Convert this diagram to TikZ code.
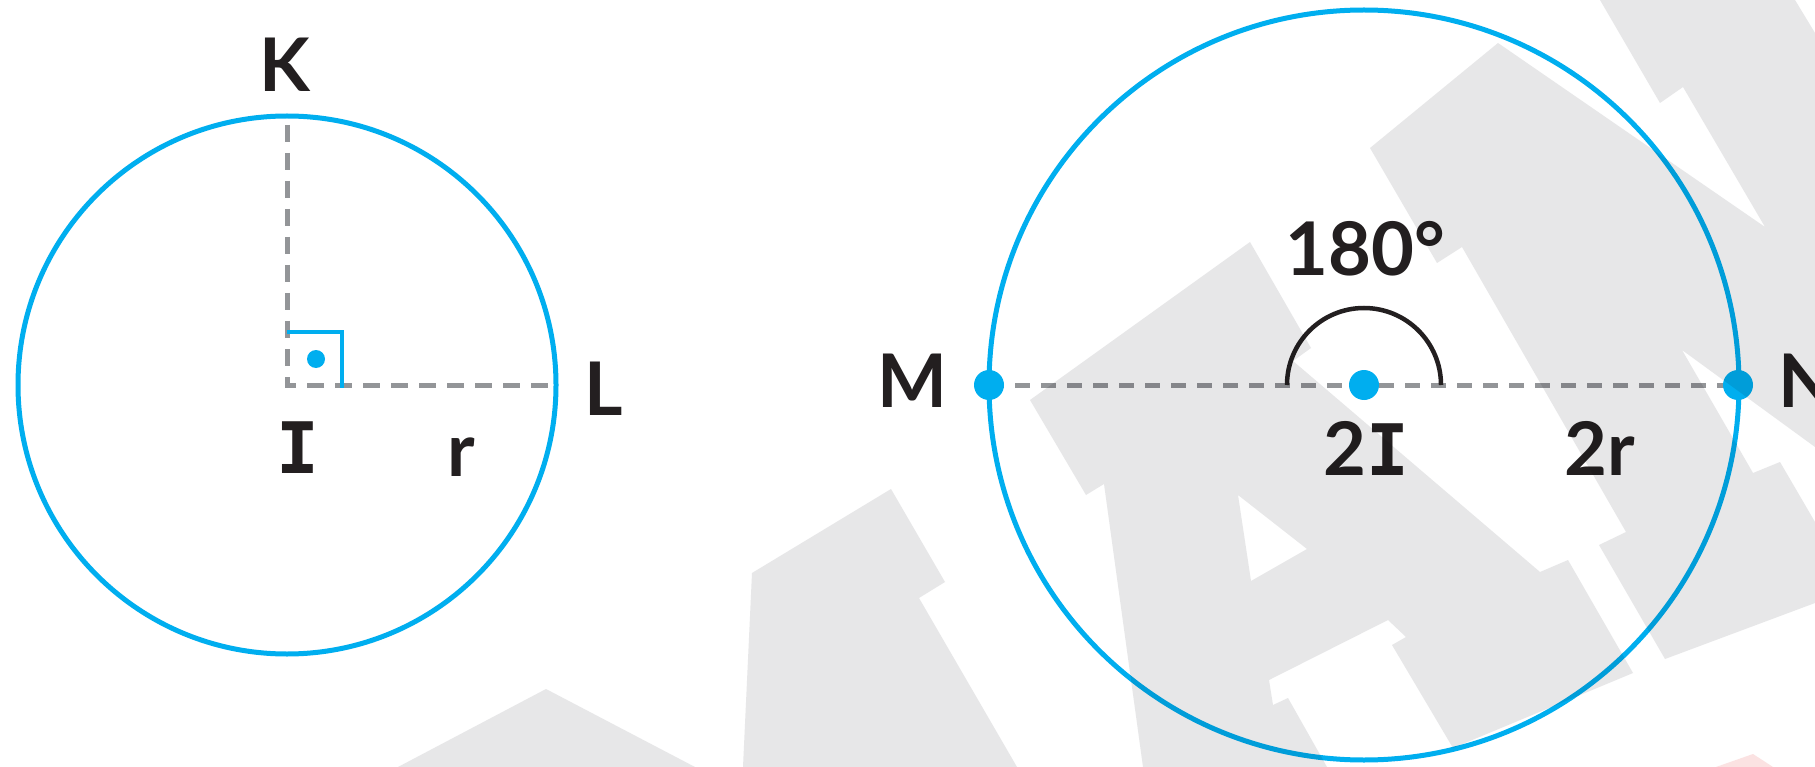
\documentclass[tikz,border=0pt]{standalone}
\usepackage{fontspec}
\setmainfont{DejaVu Sans}
\newfontfamily\labfont{Lato}
\newfontfamily\ifont{DejaVu Sans Mono}
\newcommand{\serifI}{{\ifont\fontsize{71}{80}\selectfont\bfseries I}}
\definecolor{cblue}{RGB}{0,174,239}
\definecolor{dgray}{RGB}{147,149,152}
\definecolor{ink}{RGB}{35,31,32}
\definecolor{wm}{RGB}{231,231,232}
\definecolor{wmpink}{RGB}{251,226,226}
\begin{document}
\begin{tikzpicture}[x=1pt,y=-1pt,
  lab/.style={font=\labfont\bfseries\fontsize{74}{80}\selectfont, text=ink, inner sep=0pt, anchor=base},
  circ/.style={draw=cblue, line width=5pt},
  dashl/.style={draw=dgray, line width=5pt, dash pattern=on 17pt off 11pt, dash phase=19pt},
  dashr/.style={draw=dgray, line width=5pt, dash pattern=on 15pt off 11pt},
  dot/.style={circle, fill=cblue, draw=none, inner sep=0pt, minimum size=#1},
  dot/.default=30pt,
  wmark/.style={fill=wm, draw=none}]
\useasboundingbox (0,0) rectangle (1815,767);
\fill[white] (0,0) rectangle (1815,767);

% ---------- left figure ----------
\coordinate (I) at (287,385);
\coordinate (Ktop) at (287,116);
\coordinate (Lpt) at (556,385);
\draw[circ] (I) circle[radius=269pt];
\draw[dashl] (Ktop) -- (I) -- (Lpt);
\draw[circ, line width=4.5pt] (I) ++(0,-53) -- ++(55,0) -- ++(0,56);
\node[dot=18pt] (Idot) at (316,359) {};
\node[lab] (K) at (285,92) {K};
\node[lab] (L) at (604,415) {L};
\node[lab] (Ilab) at (298,473) {\serifI};
\node[lab] (rlab) at (461,476) {r};

% ---------- right figure ----------
\coordinate (O) at (1364,385);
\coordinate (Mp) at (989,385);
\coordinate (Np) at (1738,385);
\draw[circ] (O) circle[radius=375pt];
\draw[dashr] (Mp) -- (Np);
\draw[ink, line width=4.5pt] (O) ++(-77,0) arc[start angle=180, end angle=0, radius=77pt];
\node[dot] (M) at (Mp) {};
\node[dot] (N) at (Np) {};
\node[dot] (C) at (O) {};
\node[lab] (Mlab) at (912,407) {M};
\node[lab, anchor=base west] (Nlab) at (1778,407) {N};
\node[lab] (ang) at (1365,276) {180°};
\node[lab] (twoI) at (1366,475) {2\serifI};
\node[lab] (twor) at (1600,475) {2r};

% ---------- watermark ----------
\begin{scope}[blend mode=multiply]
\fill[wmark] (398,767) -- (546,689) -- (695,767) -- cycle;
\fill[wmark] (743,767) -- (752,573) -- (891,489) -- (945,582) -- (919,598) -- (1017,767) -- cycle;
\fill[wmark, even odd rule] (1030,400) -- (1250,242) -- (1311,348) -- (1293,361) -- (1540,572)
  -- (1568,560) -- (1633,673) -- (1453,748) -- (1392,645) -- (1406,637) -- (1388,620)
  -- (1269,680) -- (1273,705) -- (1288,698) -- (1327,767) -- (1143,767) -- (1104,484)
  -- (1086,495) -- cycle
  (1238,495) -- (1307,549) -- (1251,581) -- cycle;
\fill[wmark] (1498,43) -- (1370,148) -- (1437,263) -- (1462,247) -- (1626,532) -- (1599,545)
  -- (1665,659) -- (1815,603) -- (1815,522) -- (1780,462) -- (1753,473) -- (1682,350)
  -- (1815,447) -- (1815,33) -- (1795,0) -- (1600,0) -- (1660,103) -- (1683,87)
  -- (1765,227) -- cycle;
\fill[wmpink] (1716,767) -- (1753,754) -- (1773,767) -- cycle;
\end{scope}
\end{tikzpicture}
\end{document}
